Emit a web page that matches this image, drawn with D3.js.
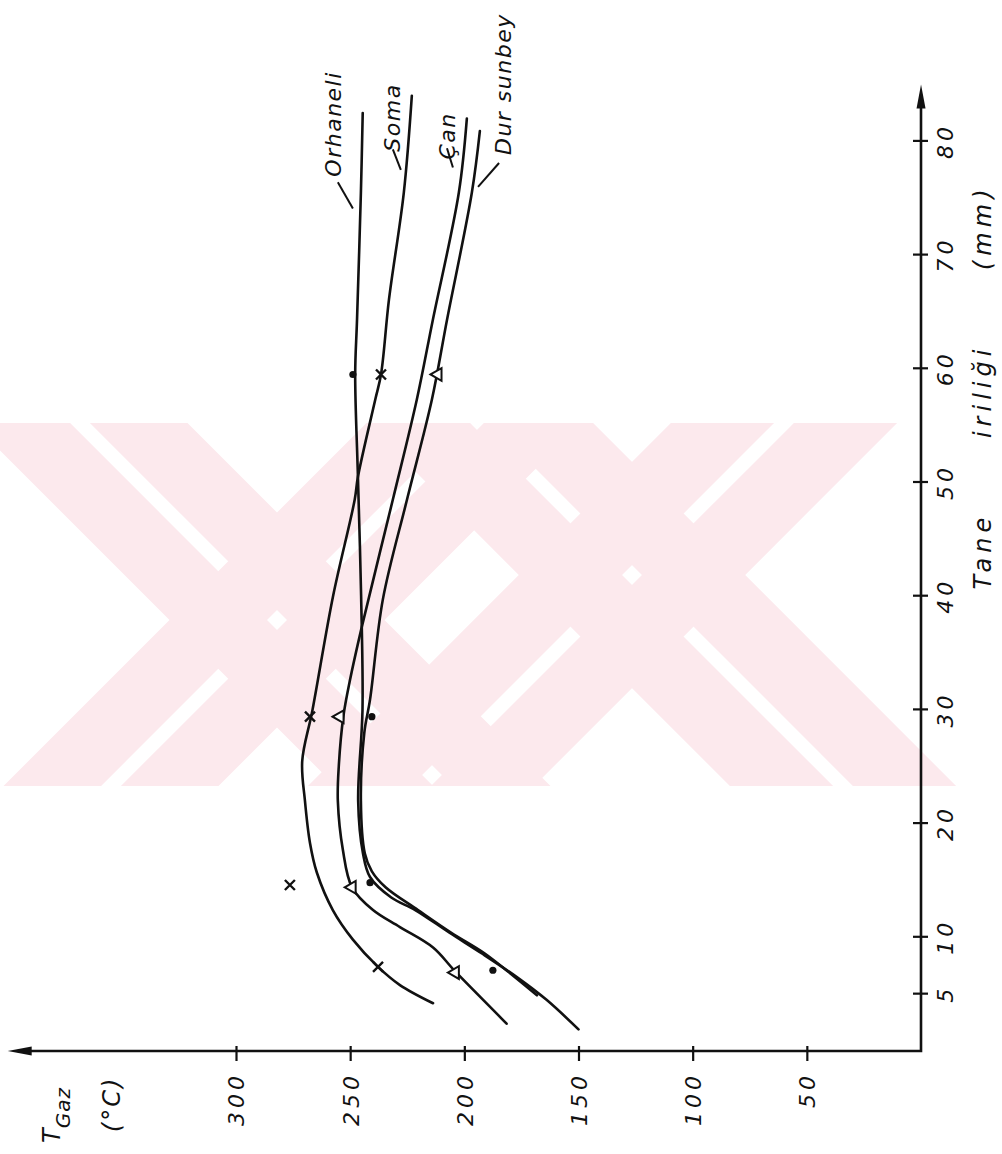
<!DOCTYPE html>
<html>
<head>
<meta charset="utf-8">
<script src="https://cdn.jsdelivr.net/npm/d3@7"></script>
<style>
  body { margin: 0; background: #fff; }
  svg text { font-family: "DejaVu Sans", sans-serif; font-style: italic; fill: #111; }
</style>
</head>
<body>
<div id="viz"></div>
<script>

// grain size (mm) ticks and gas temperature (°C) ticks
const mmTicks = [5, 10, 20, 30, 40, 50, 60, 70, 80]
const tempTicks = [50, 100, 150, 200, 250, 300]

// curves: [grain size mm, T gas °C]
const orhaneli = [[82.5, 244.5], [75.5, 245.3], [64.3, 247], [59.5, 247.8], [50.5, 246.6], [40, 245.2],
    [30, 244.6], [22, 246.5], [17.4, 244.4], [15.3, 241.3], [13.5, 232], [12.4, 221.5], [10.4, 206.5],
    [8.6, 192.5], [6.5, 177], [4.5, 164], [1.9, 150]]
const soma = [[84, 223], [75.5, 226.5], [66.1, 233], [59.5, 236.5], [57.3, 239], [50.5, 246.6],
    [48.5, 248], [40, 257.5], [30, 266.5], [25.5, 271], [22, 269.8], [18.3, 267.6], [15.7, 264.6],
    [12.4, 257.6], [9.8, 248.8], [7.4, 237.8], [5.8, 228.2], [4.2, 213.7]]
const can = [[82, 198.9], [75.5, 202.4], [64.3, 213.8], [57.3, 220.8], [48.5, 231.3], [37.3, 244.9],
    [32.6, 250.1], [29.4, 253], [25, 255], [22, 255.4], [17.7, 253.2], [14.4, 249.2], [12.4, 240],
    [10.9, 228.2], [9.1, 213.7], [7, 204], [3, 184.4], [2.4, 181.5]]
const dursunbey = [[80.9, 193.2], [75.5, 196.7], [64.3, 207.6], [57.3, 214.2], [48.5, 225.1],
    [39.7, 235.7], [30.9, 241.3], [28, 243.8], [22, 245.3], [17.4, 243.6], [15.8, 240.5], [14.4, 234.5],
    [12.4, 220.3], [10.4, 205.7], [8.6, 191.2], [6.6, 178.5], [4.9, 168.2]]

// measured points
const dotPoints = [[59.5, 248.8], [29.4, 240.5], [14.8, 241.3], [7.1, 187.5]]
const crossPoints = [[59.5, 236.5], [29.4, 267.6], [14.6, 276.4], [7.4, 237.8]]
const trianglePoints = [[59.5, 211.6], [29.4, 254.5], [14.4, 249.2], [6.9, 204]]

// curve names, where each name starts and its leader line
const curveNames = ["Orhaneli", "Soma", "Çan", "Dur sunbey"]
const nameAt = [[76.9, 254], [79.1, 228.2], [78.4, 204.1], [78.8, 179.6]]
const leaders = [[[76.4, 255.4], [74.1, 248.8]], [[79.3, 231.3], [77.5, 227.8]],
    [[79.4, 207.6], [77.7, 205]], [[78.1, 184.8], [76, 194]]]

const width = 1002, height = 1154

const viz = d3.select("#viz").append("svg")
    .attr("width", width)
    .attr("height", height)

// pale watermark behind the plot: two broad crosses, each arm split by a thin white line
viz.append("defs").append("clipPath").attr("id", "wm-clip")
    .append("rect").attr("x", 0).attr("y", 423).attr("width", 965).attr("height", 363)

const mark = viz.append("g").attr("clip-path", "url(#wm-clip)").attr("fill", "#fce9ed")

function band(cx, cy, dir, s0, s1) {
    const d = [Math.SQRT1_2, dir * Math.SQRT1_2],
        n = [-d[1], d[0]],
        L = 800
    const p = (s, t) => [cx + n[0] * s + d[0] * t, cy + n[1] * s + d[1] * t]
    return [p(s0, -L), p(s1, -L), p(s1, L), p(s0, L)]
}

;[[277, 620, 76], [632, 575, 80]].forEach(c => {
    [1, -1].forEach(dir => {
        mark.append("polygon").attr("points", band(c[0], c[1], dir, -c[2], -7).join(" "))
        mark.append("polygon").attr("points", band(c[0], c[1], dir, 7, c[2]).join(" "))
    })
})

// the plot is drawn upright, then turned a quarter turn anticlockwise
const chart = viz.append("g").attr("transform", "translate(921,1051) rotate(-90)")

const x = d3.scaleLinear().domain([0, 80]).range([0, 909.6])
const y = d3.scaleLinear().domain([0, 300]).range([0, -685])

// axes
const xAxis = chart.append("g")
    .call(d3.axisBottom(x).tickValues(mmTicks).tickFormat(d3.format("d")))
xAxis.select(".domain").remove()
xAxis.selectAll(".tick line").attr("y1", -8).attr("y2", 7).attr("stroke", "#111").attr("stroke-width", 2.2)
xAxis.selectAll(".tick text")
    .attr("y", 32).attr("dy", null)
    .attr("font-size", 22).attr("letter-spacing", 4)
    .style("font-family", "DejaVu Sans").style("font-style", "italic")

const yAxis = chart.append("g")
    .call(d3.axisLeft(y).tickValues(tempTicks).tickFormat(d3.format("d")))
yAxis.select(".domain").remove()
yAxis.selectAll(".tick line").attr("x1", 5).attr("x2", -10).attr("stroke", "#111").attr("stroke-width", 2.2)
yAxis.selectAll(".tick text")
    .attr("x", -21).attr("dy", "0.36em")
    .attr("font-size", 22).attr("letter-spacing", 4)
    .style("font-family", "DejaVu Sans").style("font-style", "italic")

const xEnd = x(85), yEnd = y(400)
chart.append("path")
    .attr("d", `M${xEnd - 10},0 H0 V${yEnd + 10}`)
    .attr("fill", "none").attr("stroke", "#111").attr("stroke-width", 2.6)
chart.append("path")
    .attr("d", `M${xEnd},0 L${xEnd - 24},-4.5 L${xEnd - 24},4.5 Z`)
    .attr("fill", "#111")
chart.append("path")
    .attr("d", `M0,${yEnd} L-4.5,${yEnd + 24} L4.5,${yEnd + 24} Z`)
    .attr("fill", "#111")

// axis titles
chart.append("text")
    .attr("x", 664).attr("y", 70)
    .attr("text-anchor", "middle")
    .attr("font-size", 24).attr("letter-spacing", 5).attr("word-spacing", 62)
    .text("Tane iriliği (mm)")

const tGaz = chart.append("text").attr("x", -92).attr("y", -861).attr("font-size", 24)
tGaz.append("tspan").text("T")
tGaz.append("tspan").attr("dy", 10).attr("font-size", 20).attr("letter-spacing", 1).text("Gaz")

chart.append("text")
    .attr("x", -81).attr("y", -801)
    .attr("font-size", 24).attr("letter-spacing", 2)
    .text("(°C)")

// curves
const line = d3.line()
    .x(d => x(d[0]))
    .y(d => y(d[1]))
    .curve(d3.curveCatmullRom.alpha(0.5))

chart.append("g")
    .selectAll("path")
    .data([orhaneli, soma, can, dursunbey])
    .enter().append("path")
    .attr("d", line)
    .attr("fill", "none")
    .attr("stroke", "#111")
    .attr("stroke-width", 2.6)
    .attr("stroke-linecap", "round")

// measured points
chart.append("g")
    .selectAll("circle")
    .data(dotPoints)
    .enter().append("circle")
    .attr("cx", d => x(d[0]))
    .attr("cy", d => y(d[1]))
    .attr("r", 3.6)
    .attr("fill", "#111")

chart.append("g")
    .selectAll("path")
    .data(crossPoints)
    .enter().append("path")
    .attr("transform", d => `translate(${x(d[0])},${y(d[1])})`)
    .attr("d", "M-5,-5L5,5M-5,5L5,-5")
    .attr("stroke", "#111").attr("stroke-width", 2.4)

chart.append("g")
    .selectAll("path")
    .data(trianglePoints)
    .enter().append("path")
    .attr("transform", d => `translate(${x(d[0])},${y(d[1])})`)
    .attr("d", d3.symbol(d3.symbolTriangle).size(70))
    .attr("fill", "#fff").attr("stroke", "#111").attr("stroke-width", 2)

// curve names with their leader lines
chart.append("g")
    .selectAll("line")
    .data(leaders)
    .enter().append("line")
    .attr("x1", d => x(d[0][0])).attr("y1", d => y(d[0][1]))
    .attr("x2", d => x(d[1][0])).attr("y2", d => y(d[1][1]))
    .attr("stroke", "#111").attr("stroke-width", 2)

chart.append("g")
    .selectAll("text")
    .data(curveNames)
    .enter().append("text")
    .attr("x", (d, i) => x(nameAt[i][0]))
    .attr("y", (d, i) => y(nameAt[i][1]))
    .attr("font-size", 22)
    .attr("letter-spacing", 1.5)
    .text(d => d)

</script>
</body>
</html>
